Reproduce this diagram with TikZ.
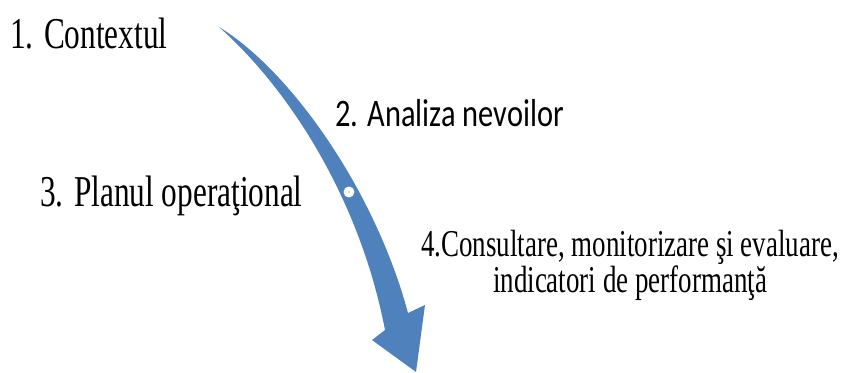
\documentclass[tikz,border=0pt]{standalone}
\usepackage{fontspec}
\setmainfont{Liberation Serif}
\newfontfamily\stepserif[FakeStretch=0.71]{Liberation Serif}
\newfontfamily\stepsans[FakeStretch=0.78]{Carlito}
\definecolor{flowblue}{RGB}{79,129,189}

\begin{document}
\begin{tikzpicture}[x=0.03cm, y=-0.03cm]
      \useasboundingbox (0,0) rectangle (850,373);

      % curved arrow
      \fill[flowblue] (219,27) .. controls (290,70) and (375,190) .. (408,313)
        -- (425,305) -- (416,372) -- (372,340) -- (385,330)
        .. controls (360,200) and (290,90) .. (219,27) -- cycle;
      \fill[white] (349,192) circle (5.5);
      \fill[flowblue!60] (349,192) circle (0.9);

      \node[inner sep=0pt, anchor=base west, font=\stepserif\fontsize{37.6pt}{40pt}\selectfont] (context) at (10,49) {1. Contextul};
      \node[inner sep=0pt, anchor=base west, font=\stepsans\fontsize{33.3pt}{36pt}\selectfont] (needs) at (335,127) {2. Analiza nevoilor};
      \node[inner sep=0pt, anchor=base west, font=\stepserif\fontsize{37.6pt}{40pt}\selectfont] (plan) at (40,207) {3. Planul operaţional};
      \node[inner sep=0pt, anchor=base, align=center, font=\stepserif\fontsize{32.4pt}{29pt}\selectfont] (review) at (630,292) {4.Consultare, monitorizare şi evaluare,\\ indicatori de performanţă};
    \end{tikzpicture}
\end{document}
